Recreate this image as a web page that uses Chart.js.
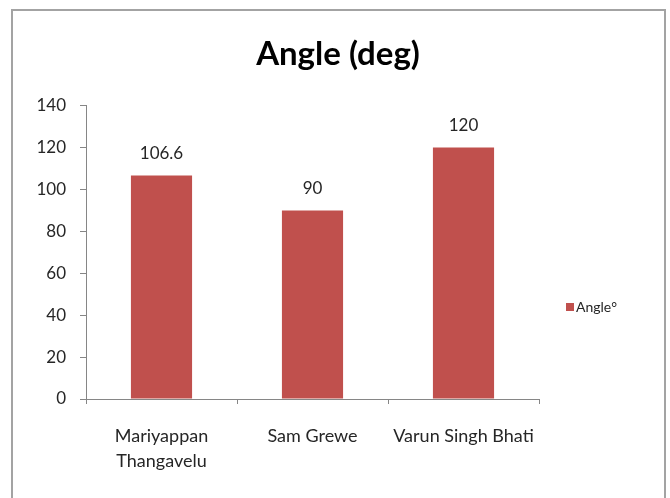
<!DOCTYPE html>
<html>
<head>
<meta charset="utf-8">
<script src="https://cdn.jsdelivr.net/npm/chart.js@4.4.1/dist/chart.umd.min.js"></script>
<style>
  html, body { margin: 0; padding: 0; background: #fff; }
  #wrap { position: relative; width: 670px; height: 498px; overflow: hidden; }
  #frame { position: absolute; left: 11px; top: 9px; width: 651px; height: 500px; border: 2px solid #a3a3a3; }
  #canvas { position: absolute; left: 0; top: 0; }
</style>
</head>
<body>
<div id="wrap">
  <div id="frame"></div>
  <canvas id="canvas" width="670" height="498"></canvas>
</div>
<script>
var categories = [['Mariyappan', 'Thangavelu'], 'Sam Grewe', 'Varun Singh Bhati'];
var angleValues = [106.6, 90, 120];
var seriesName = 'Angle\u00b0';
var chartTitle = 'Angle (deg)';

var barColor = '#c0504d';
var axisGray = '#868686';
var textColor = '#262626';
var fontFamily = 'Lato, "Open Sans", sans-serif';

// values on top of the bars, like Excel data labels
var valueLabels = {
    id: 'valueLabels',
    afterDatasetsDraw: function(chart) {
        var ctx = chart.ctx;
        var meta = chart.getDatasetMeta(0);
        ctx.save();
        ctx.font = '17px ' + fontFamily;
        ctx.fillStyle = textColor;
        ctx.textAlign = 'center';
        ctx.textBaseline = 'middle';
        meta.data.forEach(function(bar, i) {
            ctx.fillText(String(angleValues[i]), bar.x, bar.y - 22);
        });
        ctx.restore();
    }
};

// Excel style legend sitting to the right of the plot
var sideLegend = {
    id: 'sideLegend',
    afterDraw: function(chart) {
        var ctx = chart.ctx;
        var x = chart.chartArea.right + 27;
        var y = 307;
        ctx.save();
        ctx.fillStyle = chart.data.datasets[0].backgroundColor;
        ctx.fillRect(x, y - 4, 8, 8);
        ctx.font = '14px ' + fontFamily;
        ctx.fillStyle = textColor;
        ctx.textAlign = 'left';
        ctx.textBaseline = 'middle';
        ctx.fillText(chart.data.datasets[0].label, x + 10, y);
        ctx.restore();
    }
};

var ctx = document.getElementById('canvas').getContext('2d');
var myChart = new Chart(ctx, {
    type: 'bar',
    data: {
        labels: categories,
        datasets: [{
            label: seriesName,
            data: angleValues,
            backgroundColor: barColor,
            borderWidth: 0,
            categoryPercentage: 1,
            barPercentage: 0.405
        }]
    },
    options: {
        responsive: false,
        animation: false,
        layout: { padding: { left: 12, right: 6, top: 25, bottom: 0 } },
        plugins: {
            title: {
                display: true,
                text: chartTitle,
                color: '#000',
                font: { family: fontFamily, size: 33, weight: 'bold' },
                padding: { top: 10, bottom: 31 }
            },
            legend: { display: false },
            tooltip: { enabled: false }
        },
        scales: {
            x: {
                offset: true,
                grid: {
                    display: true,
                    offset: true,
                    drawOnChartArea: false,
                    drawTicks: true,
                    tickLength: 5,
                    color: axisGray
                },
                border: { display: true, color: axisGray, width: 1 },
                ticks: {
                    color: textColor,
                    padding: 20,
                    maxRotation: 0,
                    font: { family: fontFamily, size: 18, lineHeight: 1.39 }
                },
                afterFit: function(scale) { scale.height = 99; }
            },
            y: {
                min: 0,
                max: 140,
                ticks: {
                    stepSize: 20,
                    color: textColor,
                    padding: 14,
                    font: { family: fontFamily, size: 17 }
                },
                grid: {
                    display: true,
                    drawOnChartArea: false,
                    drawTicks: true,
                    tickLength: 6,
                    color: axisGray
                },
                border: { display: true, color: axisGray, width: 1 },
                afterFit: function(scale) { scale.width = 74; }
            },
            // empty right-hand axis that keeps room for the legend
            legendSpace: {
                type: 'linear',
                position: 'right',
                display: true,
                grid: { display: false },
                border: { display: false },
                ticks: { display: false },
                afterFit: function(scale) { scale.width = 125; }
            }
        }
    },
    plugins: [valueLabels, sideLegend]
});
</script>
</body>
</html>
